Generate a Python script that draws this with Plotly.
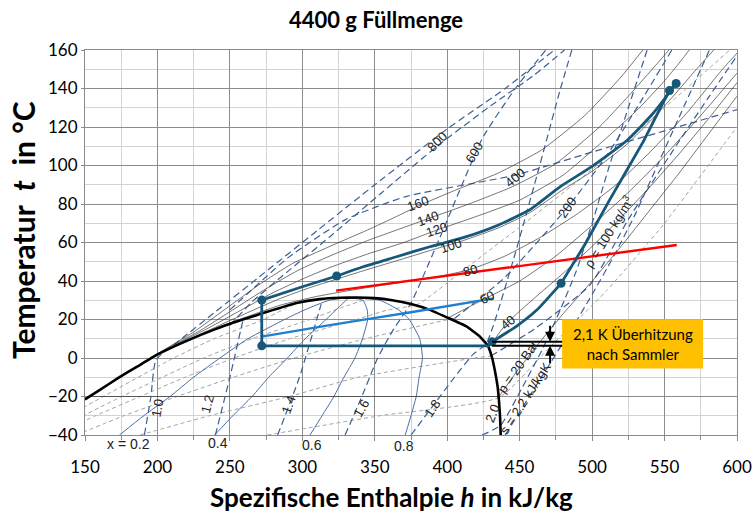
import plotly.graph_objects as go

# ---------------- data (h in kJ/kg, t in °C) ----------------
# two-phase dome of CO2
DOME_H = [150, 160, 173, 186, 199.5, 219, 240, 261.6, 280, 296, 312, 326, 338,
          350, 362, 375, 388, 400, 413, 422, 428, 431, 433, 434.8, 435.8, 436.5, 436.9]
DOME_T = [-21.5, -16.7, -10.3, -4.5, 1.6, 8.5, 15, 20.6, 25, 28.6, 30.6, 31.3, 31.4,
          31.1, 30.0, 28.0, 25.0, 21.0, 16.5, 11.5, 6.5, 0.0, -7, -15, -23, -31, -40]

# isobars (bar)
P20_H = [152, 435.8]
P20_T = [-20, -20]
P20_GAS_H = [435.8, 448, 462, 480, 500, 520, 540, 560, 580, 600]
P20_GAS_T = [-20, -7, 6.5, 23, 40, 58, 77, 96, 116, 136]
P40_H = [428.5, 441, 460, 480, 500, 520, 540, 560, 580, 600]
P40_T = [5.3, 18, 31, 44, 58, 73, 89, 106, 124, 143]
P60_H = [401, 415, 428, 450, 475, 500, 525, 550, 575, 600]
P60_T = [21, 26.5, 31.5, 40, 53, 69, 86, 105, 126, 148]
P80_H = [150, 199.5, 240, 262, 285, 310, 340, 370, 395, 416, 440, 465, 490, 515, 540, 565, 590, 602]
P80_T = [-21.5, 1.6, 15.3, 21.5, 27.5, 32, 36, 39.5, 42.5, 46, 53, 63, 75, 89, 107, 127, 150, 160]
P100_H = [150, 199.5, 240, 262, 285, 305, 323, 342, 365, 388, 411, 435, 457, 478, 500, 524, 542, 556, 572, 584]
P100_T = [-21.5, 1.7, 16, 23.5, 31, 36.5, 40.8, 45.3, 50.5, 55.8, 61, 67.5, 75.5, 86.5, 97, 111, 124.5, 136, 150, 160]
P120_H = [150, 199.5, 235, 258, 280, 300, 319, 345, 370, 393, 420, 450, 480, 505, 530, 550, 563, 567]
P120_T = [-21.5, 1.8, 15.5, 25, 34, 41, 47, 54, 60, 66.5, 73.5, 82, 95, 111, 128, 144, 156, 160]
P140_H = [150, 199.5, 230, 252, 275, 297, 319, 345, 367, 388, 415, 445, 475, 505, 525, 545, 553]
P140_T = [-21.5, 1.9, 14.5, 25, 36, 45.5, 53, 61, 67, 72.7, 80, 89, 101, 120, 136, 153, 160]
P160_H = [150, 199.5, 225, 247, 270, 293, 319, 345, 365, 380, 405, 435, 465, 495, 520, 535]
P160_T = [-21.5, 2, 13.5, 25.5, 38, 49, 58, 66.5, 73.5, 79, 87, 96, 108, 126, 146, 160]

# lines of constant vapour quality x
QUALITY_T = [-40, -30, -20, -10, 0, 10, 20, 25, 30, 31.3]
X02_H = [173.8, 190.5, 208.7, 224.9, 243.1, 262.5, 287.7, 301.6, 318.6, 332]
X04_H = [239.5, 252, 265.3, 276.8, 289.7, 302, 316.4, 323.2, 330.2, 332]
X06_H = [305.3, 313.6, 321.8, 328.7, 336.3, 341.5, 345.1, 344.8, 341.8, 332]
X08_H = [371, 375, 378.6, 380.6, 382.9, 381, 373.8, 366.4, 353.4, 332]

# isentropes (kJ/kgK)
S10_H = [191, 195.5, 199, 215, 240, 270, 310, 350, 400, 440, 474]
S10_T = [-40, -20, -1, 9, 24, 42, 66, 90, 119, 140, 160]
S12_H = [240, 250, 259]
S12_T = [-40, -10, 19.5]
S14_H = [283, 298, 313]
S14_T = [-40, -10, 28]
S16_H = [329.5, 340, 352, 363, 375, 395, 424.7, 447, 468]
S16_T = [-40, -22, 0, 15, 28.5, 62.7, 114.7, 140, 160]
S18_H = [375, 390, 405, 418, 427, 445.6, 462, 477.9, 486]
S18_T = [-40, -25, -10, 2, 7.5, 50.9, 95, 139.2, 160]
S20_H = [424, 436.8, 452, 466, 478, 489, 500, 512, 525, 538]
S20_T = [-40, -35, -15, 5, 25, 45, 70, 100, 130, 160]
S22_H = [440, 455, 470, 485, 500, 515, 530, 545, 560, 575, 581]
S22_T = [-40, -22, -4, 14, 33, 53, 75, 100, 125, 150, 160]

# isochores (kg/m³), single-phase part
R800_H = [250, 265, 290, 319, 355, 393, 430, 460, 481]
R800_T = [17, 29, 45, 63, 86, 110, 131, 147, 160]
R400_H = [250, 290, 330, 372, 447, 500, 550, 600]
R400_T = [25, 52, 72, 84, 95, 107, 118, 129]
R200_H = [405, 440, 482.7, 510, 535, 555]
R200_T = [20.5, 42, 78, 105, 135, 160]
R100_H = [430, 460, 498.6, 525, 556, 580, 600]
R100_T = [1, 15, 38, 72, 108, 135, 157]
# isochores inside the dome (and their continuation)
W600_H = [114.8, 162.6, 211.2, 239, 273.3, 286.3, 295]
W600_T = [-40, -20, 0, 10, 20, 25, 28]
W400_H = [122.1, 175.4, 232, 265.2, 305.3, 322.7, 345]
W400_T = [-40, -20, 0, 10, 20, 25, 30.8]
W300_H = [129.4, 157.3, 188.1, 219.1, 252.8, 291.3, 337.3, 359.2, 380, 410, 450, 500, 550, 595]
W300_T = [-40, -30, -20, -10, 0, 10, 20, 25, 28, 45, 68, 98, 130, 160]
W200_H = [144, 176.9, 213.5, 252.3, 294.3, 343.5, 401, 405]
W200_T = [-40, -30, -20, -10, 0, 10, 20, 20.5]
W100_H = [188, 235.8, 291, 338.5, 419, 430]
W100_T = [-40, -30, -20, -10, 0, 1]
W50_H = [275.8, 353.5, 435.8, 470, 510, 550, 590, 600]
W50_T = [-40, -30, -20.5, 5, 35, 70, 110, 120]

# refrigeration cycle, split into its process steps
EXPANSION_H = [272, 272]
EXPANSION_T = [30.1, 6.3]
EVAPORATION_H = [272, 428.5, 431]
EVAPORATION_T = [6.3, 6.3, 8.4]
SUCTION_H = [431, 448, 461.8, 478.6]
SUCTION_T = [8.4, 16.6, 24.9, 38.8]
COMPRESSION_H = [478.6, 495, 512, 535, 553.4, 558]
COMPRESSION_T = [38.8, 59, 82, 112, 138.9, 142.6]
GASCOOLER_H = [558, 542, 524, 500, 478, 457, 435, 411, 388, 365, 342, 323.7]
GASCOOLER_T = [142.6, 127, 113, 99.5, 89, 77, 69, 62.5, 57.8, 52.6, 47.4, 42.6]
IHX_HP_H = [323.7, 300, 272]
IHX_HP_T = [42.6, 37, 30.1]
CYCLE_PTS_H = [272, 272, 323.7, 431, 478.6, 553.4, 558]
CYCLE_PTS_T = [30.1, 6.3, 42.6, 8.4, 38.8, 138.9, 142.6]
RED_H = [323.3, 558.4]
RED_T = [35.0, 58.7]
LBLUE_H = [272, 319, 375, 432]
LBLUE_T = [11.1, 17.1, 23.8, 31.0]

# superheat marker
SH_UPPER_T = 8.4
SH_LOWER_T = 6.3

# ---------------- figure ----------------
fig = go.Figure()


def line(h, t, color, width, dash="solid", shape="spline", smoothing=0.5):
    fig.add_trace(go.Scatter(
        x=h, y=t, mode="lines", hoverinfo="skip",
        line=dict(color=color, width=width, dash=dash, shape=shape,
                  smoothing=smoothing if shape == "spline" else None)))


GRAY_DASH = "#a3a3a3"
BLUE_DASH = "#3b5f96"
QUAL = "#4a6ea6"
ISOBAR = "#3a3a3a"
CYCLE = "#17587a"

for h, t in [(W600_H, W600_T), (W400_H, W400_T), (W300_H, W300_T),
             (W200_H, W200_T), (W100_H, W100_T), (W50_H, W50_T)]:
    line(h, t, GRAY_DASH, 1, dash="4px,3px")

for hx in [X02_H, X04_H, X06_H, X08_H]:
    line(hx, QUALITY_T, QUAL, 1)

for h, t in [(S10_H, S10_T), (S12_H, S12_T), (S14_H, S14_T), (S16_H, S16_T),
             (S18_H, S18_T), (S20_H, S20_T), (S22_H, S22_T),
             (R800_H, R800_T), (R400_H, R400_T),
             (R200_H, R200_T), (R100_H, R100_T)]:
    line(h, t, BLUE_DASH, 1.2, dash="7px,4px")

line(P20_H, P20_T, "#555555", 1.2, shape="linear")
for h, t in [(P20_GAS_H, P20_GAS_T), (P40_H, P40_T), (P60_H, P60_T), (P80_H, P80_T),
             (P100_H, P100_T), (P120_H, P120_T), (P140_H, P140_T), (P160_H, P160_T)]:
    line(h, t, ISOBAR, 0.7)

line(DOME_H, DOME_T, "black", 2.6, smoothing=0.3)
line(LBLUE_H, LBLUE_T, "#1f7fd0", 2.4)
line(RED_H, RED_T, "#ff0000", 2.4, shape="linear")
line(EXPANSION_H, EXPANSION_T, CYCLE, 2.8, shape="linear")
line(EVAPORATION_H, EVAPORATION_T, CYCLE, 2.8, shape="linear")
line(SUCTION_H, SUCTION_T, CYCLE, 2.8)
line(COMPRESSION_H, COMPRESSION_T, CYCLE, 2.8, smoothing=0.3)
line(GASCOOLER_H, GASCOOLER_T, CYCLE, 2.8)
line(IHX_HP_H, IHX_HP_T, CYCLE, 2.8)
fig.add_trace(go.Scatter(x=CYCLE_PTS_H, y=CYCLE_PTS_T, mode="markers", hoverinfo="skip",
                         marker=dict(color=CYCLE, size=9)))

# superheat dimension marks and note box
for t in (SH_UPPER_T, SH_LOWER_T):
    fig.add_shape(type="line", x0=431, x1=480, y0=t, y1=t, xref="x", yref="y",
                  line=dict(color="black", width=2))
fig.add_shape(type="rect", x0=479.3, x1=576.6, y0=-5.4, y1=20.1, xref="x", yref="y",
              fillcolor="#ffc000", line=dict(width=0))

ann = []
ann.append(dict(x=471, y=SH_UPPER_T, ax=471, ay=17.5, axref="x", ayref="y", xref="x", yref="y",
                text="", showarrow=True, arrowhead=2, arrowsize=1, arrowwidth=2, arrowcolor="black"))
ann.append(dict(x=471, y=SH_LOWER_T, ax=471, ay=-3.6, axref="x", ayref="y", xref="x", yref="y",
                text="", showarrow=True, arrowhead=2, arrowsize=1, arrowwidth=2, arrowcolor="black"))
ann.append(dict(x=528, y=7.4, xref="x", yref="y", showarrow=False,
                text="2,1 K Überhitzung<br>nach Sammler",
                font=dict(family="Lato", size=15, color="black")))

LBL = dict(family="Liberation Sans", size=13, color="#222222")
labels = [
    ("800", 393, 112.7, -45), ("600", 418.5, 107, -60), ("400", 446.8, 94, -40),
    ("200", 482.7, 78.4, -55), ("ρ = 100 kg/m<sup>3</sup>", 511, 65.5, -58),
    ("160", 380, 80.5, -20), ("140", 386.8, 72.7, -20), ("120", 393, 66.5, -18),
    ("100", 402.6, 58.7, -18), ("80", 415.8, 45.7, -15), ("60", 427.5, 31.2, -25),
    ("40", 442, 18.2, -40), ("p = 20 Bar", 449.2, -4.6, -55),
    ("s = 2.2 kJ/kgK", 453.7, -20.8, -57),
    ("1.0", 199.7, -26, -80), ("1.2", 234.2, -23.9, -75), ("1.4", 290.8, -24.4, -70),
    ("1.6", 340.5, -26, -60), ("1.8", 389.5, -26, -55), ("2.0", 431, -28.6, -68),
]
for txt, h, t, ang in labels:
    ann.append(dict(x=h, y=t, xref="x", yref="y", text=txt, showarrow=False,
                    textangle=ang, font=LBL))

# quality labels sit just below the plotting area
QLBL = dict(family="Liberation Sans", size=14, color="#222222")
for txt, h, py in [("x = 0.2", 180, 444), ("0.4", 242, 443), ("0.6", 306.5, 445),
                   ("0.8", 370, 446)]:
    ann.append(dict(x=h, y=(435 - py) / 385, xref="x", yref="paper", text=txt,
                    showarrow=False, xanchor="center", yanchor="middle", font=QLBL))

ann.append(dict(x=(23 - 85) / 652, y=(435 - 230) / 385, xref="paper", yref="paper",
                xanchor="center", yanchor="middle",
                text="<b>Temperatur  <i>t</i>  in °C</b>", textangle=-90, showarrow=False,
                font=dict(family="Lato", size=30, color="black")))
ann.append(dict(x=(391 - 85) / 652, y=(435 - 497) / 385, xref="paper", yref="paper",
                xanchor="center", yanchor="middle",
                text="<b>Spezifische Enthalpie <i>h</i> in kJ/kg</b>", showarrow=False,
                font=dict(family="Lato", size=26, color="black")))

axis_common = dict(showline=True, linecolor="#8a8a8a", linewidth=1, mirror=True,
                   zeroline=False, ticks="outside", tickcolor="#8a8a8a",
                   gridcolor="#8c8c8c", gridwidth=1, automargin=False,
                   tickfont=dict(family="Lato", size=17, color="black"))
fig.update_xaxes(range=[150, 600], tick0=150, dtick=50, ticklen=5,
                 minor=dict(dtick=25, showgrid=True, gridcolor="#d3d3d3", ticks="outside",
                            ticklen=4, tickcolor="#8a8a8a"),
                 ticklabelstandoff=12, **axis_common)
fig.update_yaxes(range=[-40, 160], tick0=-40, dtick=20, ticklen=3,
                 minor=dict(dtick=10, showgrid=True, gridcolor="#d3d3d3"),
                 ticklabelstandoff=0, **axis_common)

fig.update_layout(
    width=752, height=513, margin=dict(l=85, r=15, t=50, b=78, autoexpand=False),
    paper_bgcolor="white", plot_bgcolor="white", showlegend=False,
    title=dict(text="<b>4400 g Füllmenge</b>", x=0.5, xanchor="center", y=0.96,
               yanchor="middle", font=dict(family="Lato", size=22, color="black")),
    annotations=ann,
)

fig.write_html("out.html")
